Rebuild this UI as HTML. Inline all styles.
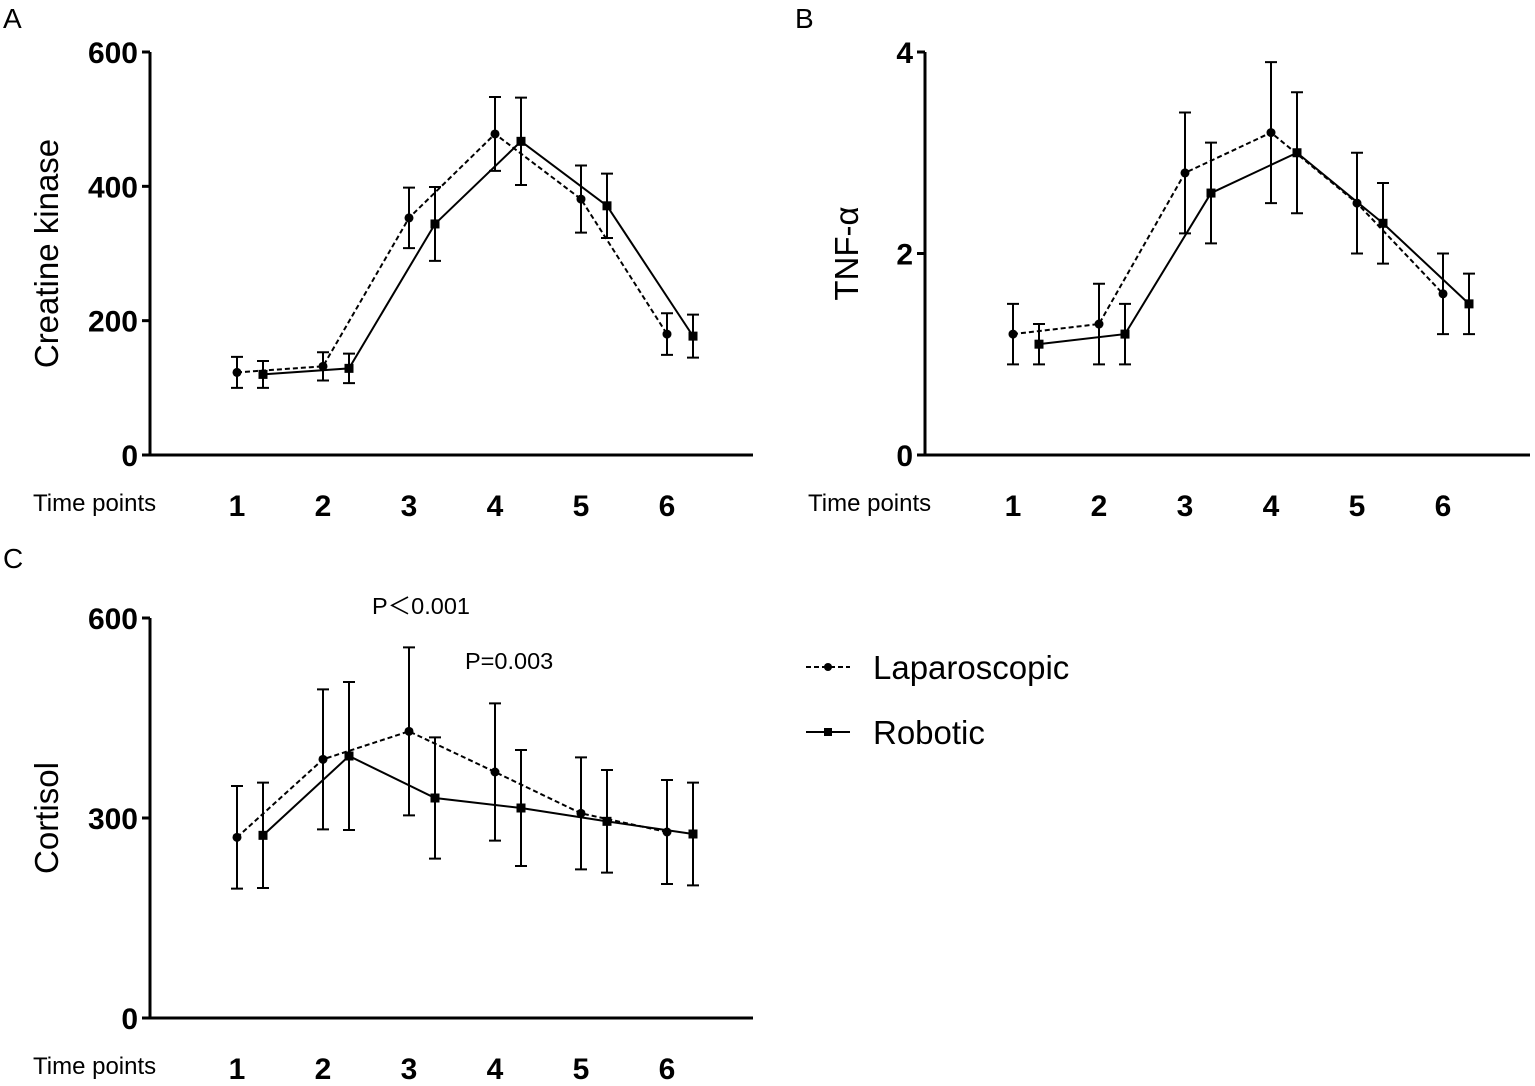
<!DOCTYPE html>
<html><head><meta charset="utf-8"><style>
body{margin:0;background:#fff}
svg{display:block;font-family:"Liberation Sans",Arial,"Noto Sans CJK SC",sans-serif}
.tick{font-size:30px;font-weight:bold}
.tp{font-size:24px}
.yt{font-size:33px}
.pl{font-size:28px}
</style></head><body>
<svg id="chart" width="1535" height="1086" viewBox="0 0 1535 1086">
<text x="3" y="28" class="pl">A</text>
<text x="795" y="28" class="pl">B</text>
<text x="3" y="568" class="pl">C</text>
<text x="372" y="614" font-size="23.5">P＜0.001</text>
<text x="465" y="669" font-size="23.5">P=0.003</text>
<g>
<line x1="806" y1="667" x2="850" y2="667" stroke="#000" stroke-width="2" stroke-dasharray="5,3"/>
<circle cx="828" cy="667" r="4"/>
<text x="873" y="679" font-size="33">Laparoscopic</text>
<line x1="806" y1="732" x2="850" y2="732" stroke="#000" stroke-width="2"/>
<rect x="824" y="728" width="8" height="8"/>
<text x="873" y="744" font-size="33">Robotic</text>
</g>
</svg>
<script>
const categories=["1","2","3","4","5","6"];
const ckLap=[123,132,353,478,381,180];
const ckLapErr=[23,21,45,55,50,31];
const ckRob=[120,129,344,467,371,177];
const ckRobErr=[20,22,55,65,48,32];
const tnfLap=[1.2,1.3,2.8,3.2,2.5,1.6];
const tnfLapErr=[0.3,0.4,0.6,0.7,0.5,0.4];
const tnfRob=[1.1,1.2,2.6,3.0,2.3,1.5];
const tnfRobErr=[0.2,0.3,0.5,0.6,0.4,0.3];
const corLap=[271,388,430,369,307,279];
const corLapErr=[77,105,126,103,84,78];
const corRob=[274,393,330,315,295,276];
const corRobErr=[79,111,91,87,77,77];
const ckTicks=[0,200,400,600];
const tnfTicks=[0,2,4];
const corTicks=[0,300,600];

const NS="http://www.w3.org/2000/svg";
const svg=document.getElementById('chart');
function mk(tag,attrs,parent){const e=document.createElementNS(NS,tag);for(const k in attrs)e.setAttribute(k,attrs[k]);(parent||svg).appendChild(e);return e;}

function panel(id,x0,x1,yBase,yTop,ymax,ticks,title,lap,lapE,rob,robE,firstX,titleOff){
  const g=mk('g',{});
  
  
  const ys=v=>yBase-(v/ymax)*(yBase-yTop);
  const xs=i=>firstX+i*86;
  const ax=mk('path',{d:`M${x0} ${yTop} L${x0} ${yBase} L${x1} ${yBase}`,fill:'none',stroke:'#000','stroke-width':3},g);
  
  
  ticks.forEach(t=>{
    const y=ys(t);
    mk('line',{x1:x0-8,x2:x0,y1:y,y2:y,stroke:'#000','stroke-width':3},g);
    const tx=mk('text',{x:x0-12,y:y+11,'text-anchor':'end',class:'tick'},g);
    tx.textContent=t;
    
    
  });
  const tp=mk('text',{x:x0-117,y:yBase+56,class:'tp'},g);
  tp.textContent='Time points';
  
  
  categories.forEach((c,i)=>{
    const t=mk('text',{x:xs(i),y:yBase+61,'text-anchor':'middle',class:'tick'},g);
    t.textContent=c;
    
    
  });
  const cy=(yBase+yTop)/2;
  const tx0=x0-titleOff;
  const yt=mk('text',{x:tx0,y:cy,'text-anchor':'middle',class:'yt',transform:`rotate(-90 ${tx0} ${cy})`},g);
  yt.textContent=title;
  
  
  function series(vals,errs,off,dashed,name){
    const pts=vals.map((v,i)=>[xs(i)+off,ys(v)]);
    vals.forEach((v,i)=>{
      const x=xs(i)+off,a=ys(v+errs[i]),b=ys(v-errs[i]);
      const eb=mk('path',{d:`M${x} ${a}L${x} ${b}M${x-6} ${a}L${x+6} ${a}M${x-6} ${b}L${x+6} ${b}`,stroke:'#000','stroke-width':2,fill:'none'},g);
      
      
    });
    const ln=mk('polyline',{points:pts.map(p=>p.join(',')).join(' '),fill:'none',stroke:'#000','stroke-width':2,'stroke-dasharray':dashed?'5,3':'none'},g);
    
    
    pts.forEach(p=>{
      let m;
      if(dashed)m=mk('circle',{cx:p[0],cy:p[1],r:4.5},g);
      else m=mk('rect',{x:p[0]-4.5,y:p[1]-4.5,width:9,height:9},g);
      
      
    });
  }
  series(lap,lapE,0,true,'laparoscopic');
  series(rob,robE,26,false,'robotic');
}
panel('creatine-kinase',150,753,455,52,600,ckTicks,'Creatine kinase',ckLap,ckLapErr,ckRob,ckRobErr,237,92);
panel('tnf-alpha',925,1530,455,52,4,tnfTicks,'TNF-α',tnfLap,tnfLapErr,tnfRob,tnfRobErr,1013,67);
panel('cortisol',150,753,1018,618,600,corTicks,'Cortisol',corLap,corLapErr,corRob,corRobErr,237,92);
</script>
</body></html>
